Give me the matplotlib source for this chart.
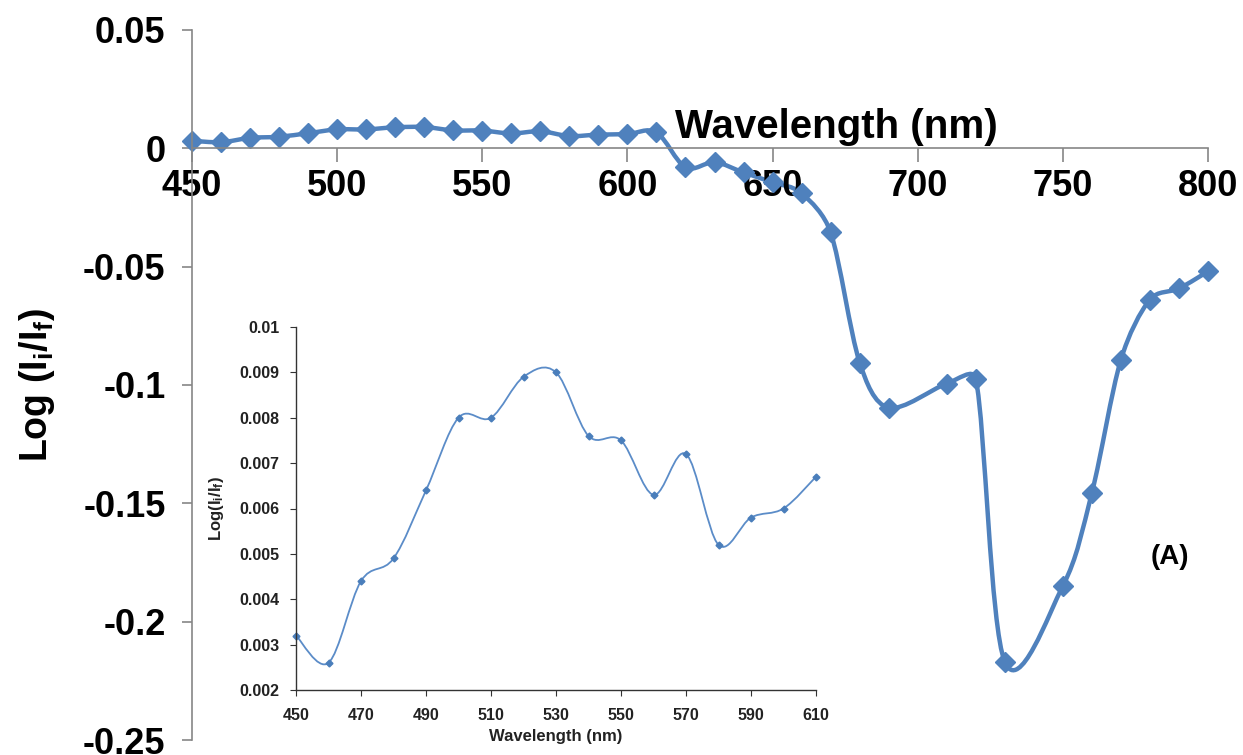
import matplotlib
matplotlib.use("Agg")
import matplotlib.pyplot as plt
import numpy as np
from matplotlib.path import Path
from matplotlib.patches import PathPatch

plt.rcParams['font.family'] = ['Liberation Sans', 'DejaVu Sans']
plt.rcParams['font.weight'] = 'bold'
plt.rcParams['mathtext.fontset'] = 'custom'
plt.rcParams['mathtext.rm'] = 'Liberation Sans:bold'
plt.rcParams['mathtext.it'] = 'Liberation Sans:bold'
plt.rcParams['mathtext.bf'] = 'Liberation Sans:bold'

# %%
# Data
wl_main = [450, 460, 470, 480, 490, 500, 510, 520, 530, 540, 550, 560, 570,
           580, 590, 600, 610, 620, 630, 640, 650, 660, 670, 680, 690, 710,
           720, 730, 750, 760, 770, 780, 790, 800]
log_main = [0.0032, 0.0026, 0.0044, 0.0049, 0.0064, 0.0080, 0.0080, 0.0089,
            0.0090, 0.0076, 0.0075, 0.0063, 0.0072, 0.0052, 0.0058, 0.0060,
            0.0067, -0.0080, -0.0059, -0.0102, -0.0144, -0.0190, -0.0355,
            -0.0905, -0.1096, -0.0994, -0.0973, -0.2170, -0.1849, -0.1455,
            -0.0893, -0.0639, -0.0592, -0.0520]

wl_inset = [450, 460, 470, 480, 490, 500, 510, 520, 530, 540, 550, 560, 570,
            580, 590, 600, 610]
log_inset = [0.0032, 0.0026, 0.0044, 0.0049, 0.0064, 0.0080, 0.0080, 0.0089,
             0.0090, 0.0076, 0.0075, 0.0063, 0.0072, 0.0052, 0.0058, 0.0060,
             0.0067]

main_yticks = [0.05, 0, -0.05, -0.1, -0.15, -0.2, -0.25]
main_ylabels = ['0.05', '0', '-0.05', '-0.1', '-0.15', '-0.2', '-0.25']
inset_yticks = [0.002, 0.003, 0.004, 0.005, 0.006, 0.007, 0.008, 0.009, 0.01]
inset_ylabels = ['0.002', '0.003', '0.004', '0.005', '0.006', '0.007',
                 '0.008', '0.009', '0.01']

blue = '#4F81BD'
grey = '#868686'


# %%
# Excel-like smoothed line: Catmull-Rom Bezier worked out in screen space,
# with the handle length capped to a share of the segment length
def smooth_path(axes, x, y, cap=0.4):
    p = axes.transData.transform(np.column_stack([x, y]).astype(float))
    n = len(p)
    verts = [p[0]]
    codes = [Path.MOVETO]
    for i in range(n - 1):
        p0 = p[i - 1] if i > 0 else p[i]
        p3 = p[i + 2] if i + 2 < n else p[i + 1]
        seg = np.hypot(*(p[i + 1] - p[i]))
        h1 = (p[i + 1] - p0) / 6.0
        h2 = (p3 - p[i]) / 6.0
        for h in (h1, h2):
            L = np.hypot(*h)
            if L > cap * seg:
                h *= cap * seg / L
        verts += [p[i] + h1, p[i + 1] - h2, p[i + 1]]
        codes += [Path.CURVE4] * 3
    verts = axes.transData.inverted().transform(np.array(verts))
    return Path(verts, codes)


fig = plt.figure(figsize=(12.43, 7.55), dpi=100)
ax = fig.add_axes([192/1243, 15/755, 1016/1243, 710/755])
ax.set_xlim(450, 800)
ax.set_ylim(-0.25, 0.05)

ax.add_patch(PathPatch(smooth_path(ax, wl_main, log_main), fill=False,
                       edgecolor=blue, lw=3.2, capstyle='round'))
ax.plot(wl_main, log_main, ls='none', marker='D', ms=10, color=blue,
        clip_on=False)

ax.set_xticks(np.arange(450, 801, 50))
ax.set_yticks(main_yticks)
ax.set_yticklabels(main_ylabels)
ax.spines['top'].set_visible(False)
ax.spines['right'].set_visible(False)
ax.spines['bottom'].set_position(('data', 0))
for s in ('left', 'bottom'):
    ax.spines[s].set_color(grey)
    ax.spines[s].set_linewidth(1.2)
ax.tick_params(axis='both', direction='out', color=grey, width=1.2,
               labelsize=26)
ax.tick_params(axis='x', length=10, pad=5)
ax.tick_params(axis='y', length=7, pad=12)
for lab in ax.get_xticklabels() + ax.get_yticklabels():
    lab.set_fontweight('bold')

ax.set_ylabel(r'Log (I$_{i}$/I$_{f}$)', fontsize=27, fontweight='bold')
ax.yaxis.set_label_coords(-0.133, 0.5)
ax.text(0.634, 0.863, 'Wavelength (nm)', transform=ax.transAxes,
        fontsize=29, fontweight='bold', ha='center', va='center')
ax.text(787, -0.1725, '(A)', fontsize=20, fontweight='bold',
        ha='center', va='center')

# %%
# Inset
ins = fig.add_axes([296/1243, 65/755, 520/1243, 363/755])
ins.set_xlim(450, 610)
ins.set_ylim(0.002, 0.01)
ins.add_patch(PathPatch(smooth_path(ins, wl_inset, log_inset, cap=10),
                        fill=False, edgecolor='#5B8CC8', lw=1.3))
ins.plot(wl_inset, log_inset, ls='none', marker='D', ms=3.5, color='#4A7EBB',
         clip_on=False)
ins.set_xticks(np.arange(450, 611, 20))
ins.set_yticks(inset_yticks)
ins.set_yticklabels(inset_ylabels)
ins.spines['top'].set_visible(False)
ins.spines['right'].set_visible(False)
for s in ('left', 'bottom'):
    ins.spines[s].set_color('#333333')
    ins.spines[s].set_linewidth(1.0)
ins.tick_params(axis='both', direction='out', length=4, color='#333333',
                labelsize=11.5, labelcolor='#222222')
ins.tick_params(axis='x', pad=9)
ins.tick_params(axis='y', pad=8)
for lab in ins.get_xticklabels() + ins.get_yticklabels():
    lab.set_fontweight('bold')
ins.set_xlabel('Wavelength (nm)', fontsize=12, fontweight='bold',
               color='#222222', labelpad=4)
ins.set_ylabel(r'Log(I$_{i}$/I$_{f}$)', fontsize=12, fontweight='bold',
               color='#222222')
ins.yaxis.set_label_coords(-0.135, 0.5)

fig.savefig('out.png', dpi=100)
